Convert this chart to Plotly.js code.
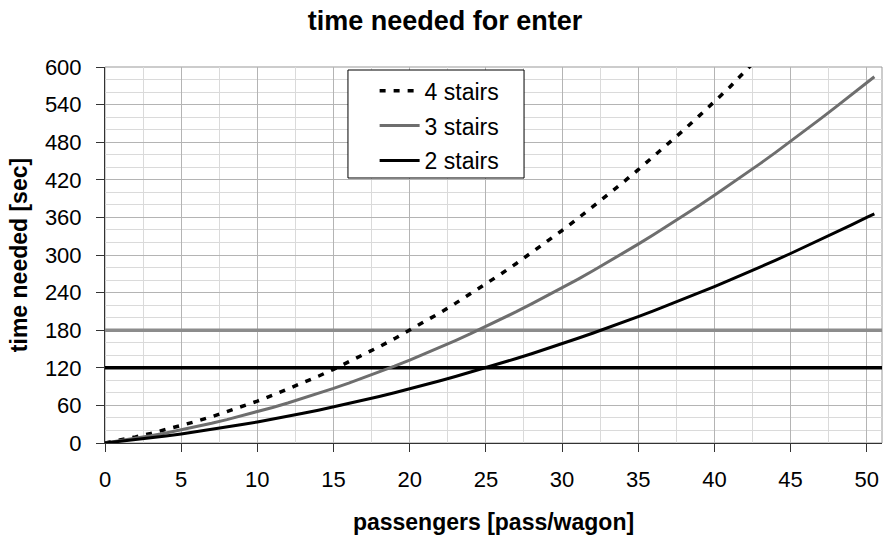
<!DOCTYPE html>
<html>
<head>
<meta charset="utf-8">
<script src="https://cdn.plot.ly/plotly-3.0.1.min.js"></script>
<style>html,body{margin:0;padding:0;background:#fff;}#chart{width:890px;height:540px;}</style>
</head>
<body>
<div id="chart"></div>
<script>
// passengers per wagon
const passengers = [0,1,2,3,4,5,6,7,8,9,10,11,12,13,14,15,16,17,18,19,20,21,22,23,24,25,26,27,28,29,30,31,32,33,34,35,36,37,38,39,40,41,42,43,44,45,46,47,48,49,50,50.5];
// time needed [sec]
const stairs4 = [0,4.6,9.7,15.2,21.2,27.6,34.6,41.9,49.8,58.1,66.8,76.1,85.8,95.9,106.5,117.6,129.1,141.1,153.6,166.5,179.9,193.7,208.0,222.8,238.1,253.8,269.9,286.5,303.6,321.1,339.1,357.6,376.5,395.9,415.8,436.1,456.9,478.1,499.8,522.0,544.6,567.7,593.0,617.0];
const stairs3 = [0,3.5,7.4,11.5,16.0,20.9,26.0,31.5,37.3,43.4,49.9,56.7,63.8,71.2,79.0,87.1,95.5,104.2,113.3,122.7,132.4,142.4,152.8,163.5,174.5,185.9,197.5,209.5,221.9,234.5,247.5,260.8,274.4,288.4,302.7,317.3,332.2,347.5,363.0,379.0,395.2,411.8,428.6,445.8,463.4,481.3,499.4,518.0,536.8,556.0,575.5,584.5];
const stairs2 = [0,2.5,5.2,8.1,11.1,14.4,17.9,21.5,25.3,29.4,33.6,38.0,42.6,47.4,52.4,57.6,63.0,68.5,74.3,80.3,86.4,92.7,99.3,106.0,112.9,120.0,127.3,134.8,142.5,150.3,158.4,166.7,175.1,183.7,192.6,201.6,210.8,220.2,229.8,239.6,249.6,259.8,270.1,280.7,291.5,302.4,313.5,324.9,336.4,348.1,360.0,365.5];
// limit lines
const limitX = [0, 51];
const limit3 = [180, 180];
const limit2 = [120, 120];
const seriesNames = ['4 stairs','3 stairs','2 stairs'];

const traces = [
  {x: limitX, y: limit3, mode:'lines', line:{color:'#8c8c8c', width:3.5}, showlegend:false, hoverinfo:'skip'},
  {x: limitX, y: limit2, mode:'lines', line:{color:'#000', width:3.5}, showlegend:false, hoverinfo:'skip'},
  {x: passengers.slice(0, stairs4.length), y: stairs4, name: seriesNames[0], legendgroup:'a', mode:'lines', line:{color:'#000', width:3.5, dash:'6px,8px'}},
  {x: passengers, y: stairs3, name: seriesNames[1], legendgroup:'b', mode:'lines', line:{color:'#6e6e6e', width:3}},
  {x: passengers, y: stairs2, name: seriesNames[2], legendgroup:'c', mode:'lines', line:{color:'#000', width:3}}
];

const layout = {
  width: 890, height: 540,
  margin: {l:105, r:8, t:67, b:97},
  paper_bgcolor:'#fff', plot_bgcolor:'#fff',
  font: {family:'Liberation Sans, Arial, sans-serif', color:'#000'},
  title: {text:'<b>time needed for enter</b>', font:{size:27, color:'#000'}, x:0.5, xanchor:'center', y:0.962, yanchor:'middle'},
  xaxis: {
    range:[0,51], tickmode:'linear', tick0:0, dtick:5,
    showgrid:true, gridcolor:'#b4b4b4', gridwidth:1,
    minor:{dtick:2.5, showgrid:true, gridcolor:'#dadada', gridwidth:1},
    ticks:'outside', ticklen:8, tickcolor:'#333', tickwidth:1,
    showline:true, linecolor:'#333', linewidth:1,
    zeroline:false, ticklabelstandoff:9,
    tickfont:{size:22},
    title:{text:'<b>passengers [pass/wagon]</b>', font:{size:23}, standoff:22}
  },
  yaxis: {
    range:[0,600], tickmode:'linear', tick0:0, dtick:60,
    showgrid:true, gridcolor:'#b4b4b4', gridwidth:1,
    minor:{dtick:20, showgrid:true, gridcolor:'#dadada', gridwidth:1},
    ticks:'outside', ticklen:8, tickcolor:'#333', tickwidth:1,
    showline:true, linecolor:'#333', linewidth:1,
    zeroline:false, ticklabelstandoff:10,
    tickfont:{size:22},
    title:{text:'<b>time needed [sec]</b>', font:{size:23}, standoff:10}
  },
  shapes: [
    {type:'rect', xref:'paper', yref:'paper', x0:0, x1:1, y0:0, y1:1, line:{color:'#999', width:1}, layer:'below'},
    {type:'rect', xref:'paper', yref:'paper', x0:0.3127, x1:0.5393, y0:0.7048, y1:0.992, fillcolor:'#fff', line:{color:'#000', width:1}, layer:'above'}
  ],
  legend: {
    x:0.347, y:0.994, xanchor:'left', yanchor:'top',
    bgcolor:'rgba(0,0,0,0)', borderwidth:0,
    font:{size:23}, tracegroupgap:2, itemwidth:40
  },
  showlegend:true
};

Plotly.newPlot('chart', traces, layout, {displayModeBar:false, staticPlot:true});
</script>
</body>
</html>
